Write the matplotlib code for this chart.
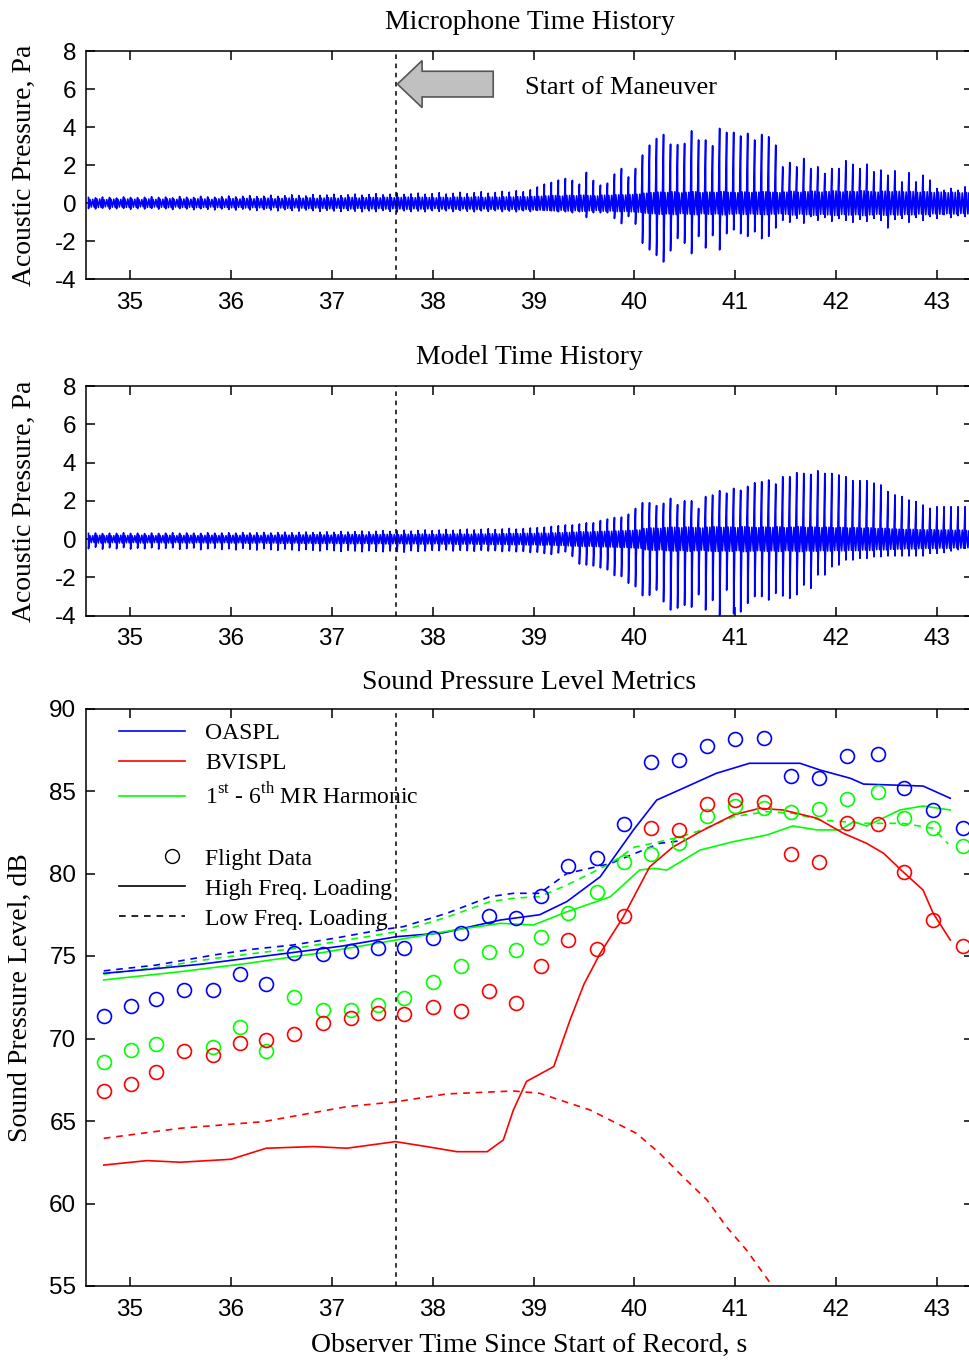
import numpy as np
import matplotlib.pyplot as plt
from matplotlib.lines import Line2D
from matplotlib.patches import FancyArrow
from matplotlib.legend_handler import HandlerLine2D

# --- pulse train of the time histories (one pulse per blade passage) ---
pulse_t0 = 34.589
pulse_dt = 0.0695

mic_top = [0.30, 0.28, 0.32, 0.30, 0.27, 0.33, 0.30, 0.29, 0.31, 0.34,
           0.30, 0.32, 0.28, 0.35, 0.31, 0.30, 0.36, 0.33, 0.31, 0.34,
           0.38, 0.33, 0.36, 0.40, 0.35, 0.37, 0.42, 0.36, 0.39, 0.44,
           0.40, 0.38, 0.45, 0.41, 0.43, 0.47, 0.40, 0.44, 0.48, 0.42,
           0.45, 0.50, 0.44, 0.47, 0.52, 0.46, 0.49, 0.53, 0.47, 0.50,
           0.55, 0.48, 0.52, 0.57, 0.50, 0.55, 0.60, 0.52, 0.56, 0.62,
           0.58, 0.65, 0.60, 0.70, 0.85,
           1.00, 1.09, 1.21, 1.30, 1.20, 1.00, 1.62, 1.20, 0.95, 1.05,
           1.53, 1.82, 1.38, 1.82,
           2.53, 3.05, 3.40, 3.61, 3.10, 3.08, 3.14, 3.80, 3.32, 3.32,
           3.02, 3.93, 3.72, 3.72, 3.53, 3.67, 3.32, 3.61, 3.49, 3.05,
           1.91, 2.14, 1.91, 2.35, 1.82, 1.91, 1.56, 1.82, 1.82, 2.23,
           2.04, 1.82, 2.05, 1.65, 1.74, 1.47, 1.70, 1.12, 1.60, 1.12,
           1.47, 1.21, 0.77, 0.68, 0.77, 0.68, 0.86]
mic_bot = [-0.28, -0.30, -0.26, -0.31, -0.29, -0.27, -0.32, -0.28, -0.30, -0.27,
           -0.31, -0.29, -0.33, -0.28, -0.30, -0.34, -0.29, -0.32, -0.35, -0.30,
           -0.33, -0.36, -0.31, -0.35, -0.38, -0.33, -0.36, -0.40, -0.34, -0.38,
           -0.41, -0.36, -0.39, -0.43, -0.37, -0.41, -0.44, -0.38, -0.42, -0.45,
           -0.40, -0.44, -0.38, -0.43, -0.46, -0.40, -0.44, -0.41, -0.45, -0.39,
           -0.43, -0.40, -0.44, -0.38, -0.42, -0.45, -0.40, -0.43, -0.39, -0.44,
           -0.41, -0.45, -0.40, -0.44, -0.38,
           -0.37, -0.40, -0.45, -0.45, -0.50, -0.45, -0.75, -0.50, -0.50, -0.50,
           -0.80, -1.07, -0.70, -1.10,
           -2.10, -2.45, -2.74, -3.09, -2.50, -1.85, -2.10, -2.65, -1.75, -2.35,
           -1.70, -2.45, -1.60, -1.40, -1.60, -1.74, -1.50, -1.86, -1.74, -1.30,
           -0.90, -1.00, -0.80, -1.05, -0.70, -0.90, -0.75, -0.95, -0.80, -0.90,
           -1.00, -0.85, -0.95, -0.80, -0.90, -1.30, -0.85, -0.80, -1.00, -0.75,
           -0.90, -0.70, -0.80, -0.60, -0.75, -0.65, -0.70]
mic_fuzz = [0.20, 0.22, 0.19, 0.21, 0.20, 0.22, 0.21, 0.19, 0.22, 0.20,
            0.21, 0.23, 0.20, 0.22, 0.21, 0.23, 0.22, 0.20, 0.23, 0.22,
            0.24, 0.22, 0.25, 0.23, 0.24, 0.26, 0.23, 0.25, 0.27, 0.24,
            0.26, 0.28, 0.25, 0.27, 0.29, 0.26, 0.28, 0.30, 0.27, 0.29,
            0.30, 0.28, 0.31, 0.29, 0.30, 0.32, 0.29, 0.31, 0.30, 0.28,
            0.31, 0.29, 0.32, 0.30, 0.31, 0.33, 0.30, 0.32, 0.31, 0.33,
            0.32, 0.34, 0.33, 0.35, 0.36,
            0.38, 0.40, 0.37, 0.41, 0.39, 0.42, 0.40, 0.38, 0.42, 0.41,
            0.44, 0.43, 0.45, 0.47,
            0.52, 0.55, 0.58, 0.56, 0.60, 0.54, 0.57, 0.60, 0.55, 0.58,
            0.56, 0.61, 0.57, 0.55, 0.59, 0.56, 0.58, 0.60, 0.57, 0.55,
            0.58, 0.62, 0.57, 0.60, 0.63, 0.58, 0.61, 0.64, 0.59, 0.62,
            0.60, 0.65, 0.61, 0.58, 0.63, 0.60, 0.62, 0.59, 0.61, 0.57,
            0.60, 0.56, 0.58, 0.55, 0.57, 0.54, 0.56]

model_top = [0.30, 0.32, 0.29, 0.31, 0.30, 0.33, 0.30, 0.31, 0.29, 0.32,
             0.30, 0.31, 0.33, 0.30, 0.32, 0.31, 0.30, 0.33, 0.31, 0.32,
             0.33, 0.31, 0.34, 0.32, 0.33, 0.35, 0.32, 0.34, 0.36, 0.33,
             0.35, 0.37, 0.34, 0.36, 0.38, 0.35, 0.40, 0.37, 0.39, 0.42,
             0.38, 0.41, 0.44, 0.40, 0.43, 0.46, 0.42, 0.45, 0.48, 0.44,
             0.47, 0.50, 0.46, 0.49, 0.52, 0.48, 0.51, 0.54, 0.50, 0.53,
             0.56, 0.52, 0.55, 0.58, 0.60, 0.62, 0.66, 0.70,
             0.74, 0.74, 0.79, 0.85, 0.85, 0.97, 1.05, 1.13, 1.15, 1.30, 1.60,
             1.90, 1.90, 1.75, 1.87, 2.13, 1.80, 2.00, 2.00, 1.60, 2.22,
             2.30, 2.53, 2.40, 2.65, 2.55, 2.75, 2.94,
             3.00, 3.09, 2.88, 3.26, 3.26, 3.47, 3.43, 3.38, 3.57, 3.43,
             3.43, 3.35, 3.26, 3.05, 3.05, 3.05, 2.92, 2.83, 2.48, 2.31,
             2.22, 2.04, 1.96, 1.78, 1.61, 1.69, 1.69, 1.69, 1.69, 1.69]
model_bot = [-0.50, -0.42, -0.52, -0.45, -0.50, -0.44, -0.52, -0.47, -0.50, -0.45,
             -0.52, -0.48, -0.45, -0.53, -0.49, -0.46, -0.55, -0.50, -0.47, -0.54,
             -0.50, -0.56, -0.48, -0.53, -0.57, -0.50, -0.55, -0.58, -0.52, -0.56,
             -0.60, -0.54, -0.58, -0.62, -0.55, -0.60, -0.64, -0.58, -0.62, -0.66,
             -0.60, -0.64, -0.66, -0.62, -0.65, -0.68, -0.60, -0.64, -0.62, -0.58,
             -0.60, -0.56, -0.62, -0.58, -0.60, -0.63, -0.58, -0.62, -0.60, -0.65,
             -0.62, -0.66, -0.64, -0.70, -0.68, -0.75, -0.80, -0.72,
             -0.66, -0.90, -1.30, -1.35, -1.40, -1.50, -1.60, -1.90, -1.95, -2.30, -2.48,
             -2.95, -2.93, -2.66, -3.27, -3.70, -3.60, -3.45, -3.55, -2.90, -3.70,
             -3.20, -3.97, -2.66, -3.90, -3.80, -3.35, -3.00,
             -3.00, -3.18, -2.83, -2.97, -3.09, -2.90, -2.40, -2.57, -1.87, -1.87,
             -1.44, -1.35, -1.09, -1.09, -1.00, -1.00, -0.92, -0.92, -0.88, -0.88,
             -0.88, -0.88, -0.88, -0.88, -0.74, -0.74, -0.70, -0.62, -0.55, -0.48]
model_fuzz = [0.18, 0.20, 0.19, 0.18, 0.20, 0.19, 0.18, 0.20, 0.19, 0.18,
              0.19, 0.20, 0.18, 0.19, 0.20, 0.18, 0.19, 0.20, 0.19, 0.18,
              0.20, 0.19, 0.21, 0.20, 0.19, 0.21, 0.20, 0.22, 0.21, 0.20,
              0.22, 0.21, 0.23, 0.22, 0.21, 0.23, 0.22, 0.24, 0.23, 0.22,
              0.24, 0.23, 0.25, 0.24, 0.23, 0.25, 0.24, 0.26, 0.25, 0.24,
              0.26, 0.25, 0.27, 0.26, 0.25, 0.27, 0.26, 0.28, 0.27, 0.28,
              0.29, 0.28, 0.30, 0.29, 0.31, 0.30, 0.32, 0.33,
              0.35, 0.36, 0.38, 0.37, 0.39, 0.40, 0.41, 0.42, 0.43, 0.45, 0.47,
              0.55, 0.58, 0.56, 0.60, 0.62, 0.59, 0.63, 0.60, 0.58, 0.62,
              0.64, 0.61, 0.63, 0.60, 0.65, 0.62, 0.60,
              0.63, 0.61, 0.64, 0.60, 0.62, 0.65, 0.61, 0.63, 0.60, 0.62,
              0.59, 0.61, 0.58, 0.60, 0.57, 0.59, 0.55, 0.56, 0.53, 0.52,
              0.50, 0.51, 0.49, 0.48, 0.49, 0.47, 0.48, 0.46, 0.47, 0.45]

maneuver_t = 37.64

# --- sound pressure level metrics ---
oaspl_hi_t = [34.74, 35.20, 35.70, 36.16, 36.60, 37.10, 37.64, 38.10, 38.67, 39.06, 39.33, 39.66,
              39.99, 40.22, 40.48, 40.81, 41.14, 41.64, 41.84, 42.14, 42.27, 42.86, 43.13]
oaspl_hi = [73.95, 74.20, 74.50, 74.86, 75.20, 75.60, 76.17, 76.40, 77.18, 77.50, 78.30, 79.80,
            82.64, 84.45, 85.16, 86.07, 86.68, 86.68, 86.27, 85.77, 85.42, 85.30, 84.56]
oaspl_lo_t = [34.74, 35.26, 35.83, 36.20, 36.62, 37.05, 37.48, 37.71, 38.14, 38.57, 38.80, 39.06,
              39.33, 39.76, 40.25, 40.52]
oaspl_lo = [74.10, 74.45, 75.06, 75.40, 75.67, 76.10, 76.58, 76.78, 77.59, 78.60, 78.80, 78.80,
            80.00, 80.60, 81.83, 82.03]
bvi_hi_t = [34.74, 35.17, 35.50, 36.00, 36.35, 36.82, 37.15, 37.63, 37.94, 38.24, 38.54, 38.70,
            38.80, 38.93, 39.20, 39.36, 39.50, 39.66, 39.89, 40.15, 40.38, 40.65, 40.98, 41.24,
            41.47, 41.81, 42.07, 42.30, 42.47, 42.66, 42.86, 42.96, 43.13]
bvi_hi = [62.33, 62.60, 62.50, 62.68, 63.35, 63.45, 63.35, 63.75, 63.45, 63.14, 63.14, 63.85,
          65.67, 67.40, 68.30, 71.10, 73.30, 75.16, 77.38, 80.40, 81.60, 82.53, 83.55, 83.95,
          83.85, 83.35, 82.44, 81.83, 81.22, 80.11, 79.00, 77.59, 75.97]
bvi_lo_t = [34.74, 35.50, 36.32, 37.15, 37.64, 38.14, 38.80, 39.06, 39.26, 39.56, 40.02, 40.25,
            40.48, 40.72, 40.91, 41.11, 41.36]
bvi_lo = [63.95, 64.56, 64.96, 65.87, 66.17, 66.64, 66.82, 66.68, 66.27, 65.67, 64.25, 63.04,
          61.62, 60.21, 58.60, 57.18, 55.06]
harm_hi_t = [34.74, 35.50, 36.16, 36.90, 37.64, 38.14, 38.67, 39.00, 39.33, 39.76, 40.05, 40.19,
             40.32, 40.65, 40.98, 41.31, 41.57, 41.81, 42.04, 42.17, 42.30, 42.63, 42.86, 43.13]
harm_hi = [73.55, 74.05, 74.55, 75.20, 75.97, 76.50, 76.98, 76.88, 77.68, 78.59, 80.21, 80.31,
           80.21, 81.42, 81.93, 82.33, 82.88, 82.64, 82.64, 83.14, 82.88, 83.85, 84.09, 83.85]
harm_lo_t = [34.74, 35.26, 35.83, 36.62, 37.48, 37.71, 38.14, 38.57, 38.80, 39.06, 39.33, 39.76,
             40.00, 40.16, 40.44, 40.65, 40.98, 41.31, 41.57, 41.84, 42.30, 42.66, 42.96, 43.11]
harm_lo = [73.90, 74.30, 74.85, 75.45, 76.30, 76.55, 77.35, 78.30, 78.50, 78.60, 79.30, 80.60,
           81.60, 81.80, 82.20, 82.60, 83.44, 83.75, 83.65, 83.24, 83.04, 83.04, 82.74, 81.80]

flight_t = [34.74, 35.01, 35.26, 35.54, 35.82, 36.09, 36.35, 36.63, 36.91, 37.19, 37.46, 37.72,
            38.00, 38.28, 38.56, 38.83, 39.07, 39.34, 39.63, 39.90, 40.16, 40.44, 40.72, 41.00,
            41.28, 41.55, 41.83, 42.11, 42.41, 42.67, 42.96, 43.26]
flight_oaspl = [71.36, 71.97, 72.41, 72.94, 72.94, 73.91, 73.30, 75.20, 75.10, 75.32, 75.47, 75.47,
                76.07, 76.38, 77.43, 77.30, 78.65, 80.47, 80.96, 83.00, 86.78, 86.88, 87.73, 88.13,
                88.19, 85.91, 85.81, 87.12, 87.24, 85.16, 83.85, 82.78]
flight_bvi = [66.84, 67.22, 67.95, 69.26, 69.00, 69.75, 69.91, 70.25, 70.96, 71.22, 71.56, 71.46,
              71.93, 71.68, 72.90, 72.17, 74.39, 75.97, 75.41, 77.42, 82.74, 82.64, 84.21, 84.45,
              84.35, 81.18, 80.68, 83.08, 82.98, 80.07, 77.18, 75.60]
flight_harm = [68.56, 69.30, 69.65, np.nan, 69.50, 70.72, 69.26, 72.53, 71.73, 71.73, 72.03, 72.44,
               73.41, 74.39, 75.22, 75.36, 76.17, 77.59, 78.86, 80.68, 81.18, 81.83, 83.48, 84.09,
               83.95, 83.75, 83.89, 84.50, 84.92, 83.35, 82.78, 81.68]

BLUE, RED, GREEN = '#0000ff', '#ff0000', '#00ff00'

plt.rcParams['font.family'] = ['Liberation Serif', 'DejaVu Serif']
plt.rcParams['mathtext.fontset'] = 'custom'
plt.rcParams['mathtext.rm'] = 'Liberation Serif'
plt.rcParams['axes.linewidth'] = 1.1
plt.rcParams['axes.unicode_minus'] = False

W, H = 969, 1362
fig = plt.figure(figsize=(W / 100, H / 100), dpi=100)


def px_axes(left, top, right, bottom):
    return fig.add_axes([left / W, 1 - bottom / H, (right - left) / W, (bottom - top) / H])


def style(ax):
    ax.set_xlim(34.564, 43.355)
    ax.set_xticks(range(35, 44))
    ax.tick_params(direction='in', length=6.5, width=1.1, top=True, right=True,
                   labelsize=17.5)
    ax.tick_params(axis='x', pad=9)
    ax.tick_params(axis='y', pad=7)
    for lab in ax.get_xticklabels() + ax.get_yticklabels():
        lab.set_fontfamily('Liberation Sans')
    ax.axvline(maneuver_t, color='k', lw=1.1, ls=(0, (3, 3)))


def pulse_wave(top, bot, fuzz):
    t = pulse_t0 + pulse_dt * np.arange(len(top))
    xs, ys = [], []
    for tk, hi, lo, f in zip(t, top, bot, fuzz):
        xs += [tk, tk, tk + 0.2 * pulse_dt, tk + 0.4 * pulse_dt, tk + 0.6 * pulse_dt, tk + 0.8 * pulse_dt]
        ys += [hi, lo, f, -f, f, -f]
    return xs, ys


class RightMarker(HandlerLine2D):
    # legend symbol drawn at the right end of the handle, as in the original
    def create_artists(self, legend, orig_handle, xdescent, ydescent, width, height,
                       fontsize, trans):
        artists = super().create_artists(legend, orig_handle, xdescent, ydescent,
                                         width, height, fontsize, trans)
        for a in artists:
            if a.get_marker() not in (None, 'None', '', ' '):
                a.set_xdata([width - xdescent - 0.55 * fontsize])
        return artists


# microphone
ax1 = px_axes(86, 51, 973, 279.3)
x, y = pulse_wave(mic_top, mic_bot, mic_fuzz)
ax1.plot(x, y, color=BLUE, lw=1.2)
ax1.set_ylim(-4, 8)
ax1.set_yticks(range(-4, 9, 2))
style(ax1)
ax1.set_title('Microphone Time History', fontsize=20, pad=16)
ax1.set_ylabel('Acoustic Pressure, Pa', fontsize=20)
ax1.yaxis.set_label_coords(-0.055, 0.5)
ax1.add_patch(FancyArrow(38.6, 6.26, -(38.6 - 37.65), 0, width=1.35, head_width=2.47,
                         head_length=0.245, length_includes_head=True,
                         facecolor='#c0c0c0', edgecolor='#555555', lw=1.2, zorder=5))
ax1.text(38.915, 6.05, 'Start of Maneuver', fontsize=19, va='center', ha='left')

# model
ax2 = px_axes(86, 386, 973, 615.7)
x, y = pulse_wave(model_top, model_bot, model_fuzz)
ax2.plot(x, y, color=BLUE, lw=1.2)
ax2.set_ylim(-4, 8)
ax2.set_yticks(range(-4, 9, 2))
style(ax2)
ax2.set_title('Model Time History', fontsize=20, pad=16)
ax2.set_ylabel('Acoustic Pressure, Pa', fontsize=20)
ax2.yaxis.set_label_coords(-0.055, 0.5)

# SPL metrics
ax3 = px_axes(86, 708.5, 973, 1286)
dash = (0, (4, 3.5))
ax3.plot(oaspl_lo_t, oaspl_lo, color=BLUE, lw=1.2, ls=dash)
ax3.plot(harm_lo_t, harm_lo, color=GREEN, lw=1.2, ls=dash)
ax3.plot(bvi_lo_t, bvi_lo, color=RED, lw=1.2, ls=dash)
ax3.plot(oaspl_hi_t, oaspl_hi, color=BLUE, lw=1.2)
ax3.plot(harm_hi_t, harm_hi, color=GREEN, lw=1.2)
ax3.plot(bvi_hi_t, bvi_hi, color=RED, lw=1.2)
for vals, c in [(flight_harm, GREEN), (flight_bvi, RED), (flight_oaspl, BLUE)]:
    ax3.plot(flight_t, vals, ls='none', marker='o', ms=10, mfc='none', mec=c, mew=1.2)
ax3.set_ylim(55, 90)
ax3.set_yticks(range(55, 91, 5))
style(ax3)
ax3.set_title('Sound Pressure Level Metrics', fontsize=20, pad=14)
ax3.set_ylabel('Sound Pressure Level, dB', fontsize=20)
ax3.yaxis.set_label_coords(-0.06, 0.5)
ax3.set_xlabel('Observer Time Since Start of Record, s', fontsize=20, labelpad=9)

flight_handle = Line2D([], [], ls='none', marker='o', ms=10, mfc='none', mec='k', mew=1.0)
handles = [Line2D([], [], color=BLUE, lw=1.2),
           Line2D([], [], color=RED, lw=1.2),
           Line2D([], [], color=GREEN, lw=1.2),
           Line2D([], [], ls='none'),
           flight_handle,
           Line2D([], [], color='k', lw=1.2),
           Line2D([], [], color='k', lw=1.2, ls=dash)]
labels = ['OASPL', 'BVISPL', r'1$^{\rm st}$ - 6$^{\rm th}$ MR Harmonic', ' ',
          'Flight Data', 'High Freq. Loading', 'Low Freq. Loading']
ax3.legend(handles, labels, loc='upper left', bbox_to_anchor=((119 - 86) / 887, 0.975),
           frameon=False, fontsize=17, handlelength=2.8, handletextpad=0.85,
           labelspacing=0.36, borderpad=0, borderaxespad=0,
           handler_map={flight_handle: RightMarker(numpoints=1)})

fig.savefig('out.png', dpi=100)
